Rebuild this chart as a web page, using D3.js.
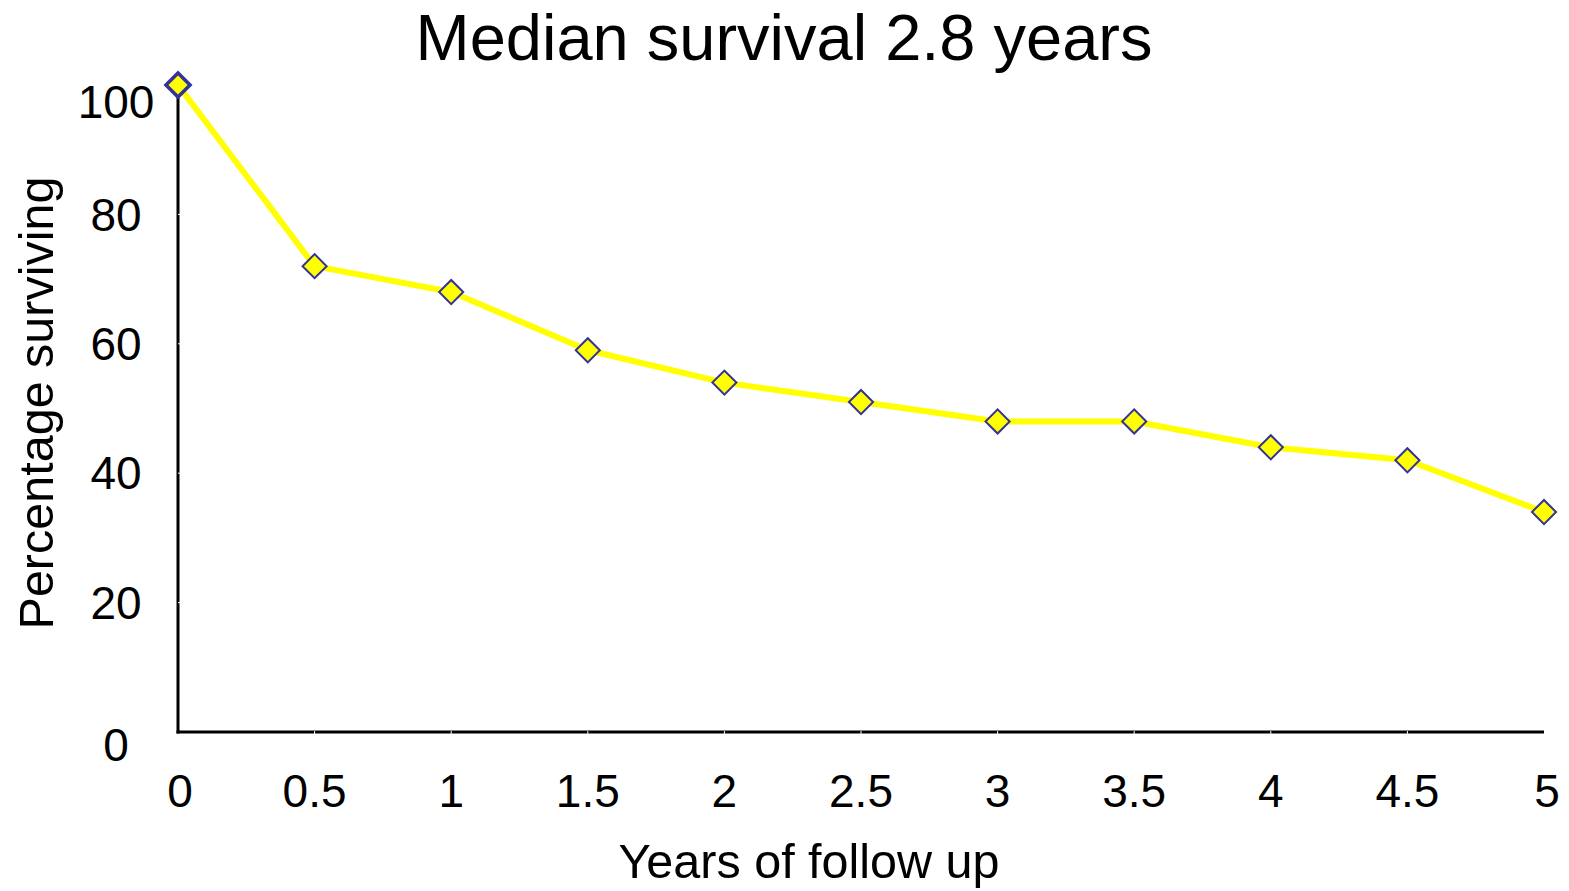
<!DOCTYPE html>
<html>
<head>
<meta charset="utf-8">
<script src="https://cdn.jsdelivr.net/npm/d3@7/dist/d3.min.js"></script>
<style>
  html, body { margin: 0; padding: 0; background: #fff; }
  svg { display: block; font-family: "Liberation Sans", Arial, sans-serif; }
</style>
</head>
<body>
<svg id="chart" width="1569" height="891"></svg>
<script>
// Survival data: years of follow up vs percentage of patients surviving
const years = [0, 0.5, 1, 1.5, 2, 2.5, 3, 3.5, 4, 4.5, 5];
const surviving = [100, 72, 68, 59, 54, 51, 48, 48, 44, 42, 34];
const xTickValues = [0, 0.5, 1, 1.5, 2, 2.5, 3, 3.5, 4, 4.5, 5];
const yTickValues = [0, 20, 40, 60, 80, 100];

const titleText = "Median survival 2.8 years";
const xTitle = "Years of follow up";
const yTitle = "Percentage surviving";

const svg = d3.select("#chart");
const plotLeft = 178, plotRight = 1544, plotTop = 85, plotBottom = 732;

const x = d3.scaleLinear().domain([0, 5]).range([plotLeft, plotRight]);
const y = d3.scaleLinear().domain([0, 100]).range([plotBottom, plotTop]);

// Title
svg.append("text")
  .attr("x", 784).attr("y", 60)
  .attr("text-anchor", "middle")
  .attr("font-size", 65)
  .attr("fill", "#000")
  .text(titleText);

// Axes lines
const axes = svg.append("g");
axes.append("line")
  .attr("x1", x(0)).attr("x2", x(0))
  .attr("y1", y(100)).attr("y2", y(0) + 1.5)
  .attr("stroke", "#000").attr("stroke-width", 3);
axes.append("line")
  .attr("x1", x(0) - 1.5).attr("x2", x(5))
  .attr("y1", y(0)).attr("y2", y(0))
  .attr("stroke", "#000").attr("stroke-width", 3);

// Small white notches marking tick positions on the axis lines
axes.selectAll(".ytick").data(yTickValues.filter(d => d > 0 && d < 100)).join("line")
  .attr("class", "ytick")
  .attr("x1", x(0)).attr("x2", x(0) + 2)
  .attr("y1", d => y(d)).attr("y2", d => y(d))
  .attr("stroke", "#fff").attr("stroke-width", 1);
axes.selectAll(".xtick").data(xTickValues.filter(d => d > 0 && d < 5)).join("line")
  .attr("class", "xtick")
  .attr("x1", d => x(d)).attr("x2", d => x(d))
  .attr("y1", y(0) - 1).attr("y2", y(0) + 2)
  .attr("stroke", "#fff").attr("stroke-width", 1);

// Y tick labels (end labels nudged inward)
svg.append("g").selectAll("text").data(yTickValues).join("text")
  .attr("x", 116)
  .attr("y", d => y(d) + (d === 100 ? 17 : d === 0 ? 13 : 0))
  .attr("dy", "0.35em")
  .attr("text-anchor", "middle")
  .attr("font-size", 46)
  .attr("fill", "#000")
  .text(d => d);

// X tick labels
const fmt = d3.format("~g");
svg.append("g").selectAll("text").data(xTickValues).join("text")
  .attr("x", d => x(d) + (d === 5 ? 3 : 0) + (d === 0 ? 2 : 0))
  .attr("y", 807)
  .attr("text-anchor", "middle")
  .attr("font-size", 46)
  .attr("fill", "#000")
  .text(d => fmt(d));

// Axis titles
svg.append("text")
  .attr("x", 809).attr("y", 878)
  .attr("text-anchor", "middle")
  .attr("font-size", 48.5)
  .attr("fill", "#000")
  .text(xTitle);

svg.append("text")
  .attr("transform", "translate(53,403) rotate(-90)")
  .attr("text-anchor", "middle")
  .attr("font-size", 48.5)
  .attr("fill", "#000")
  .text(yTitle);

// Survival line
const pts = years.map((yr, i) => [yr, surviving[i]]);
svg.append("path")
  .datum(pts)
  .attr("fill", "none")
  .attr("stroke", "#ffff00")
  .attr("stroke-width", 6)
  .attr("stroke-linejoin", "round")
  .attr("d", d3.line().x(d => x(d[0])).y(d => y(d[1])));

// Diamond markers
const diamond = d3.symbol().type(d3.symbolSquare).size(290);
svg.append("g").selectAll("path").data(pts).join("path")
  .attr("transform", d => `translate(${x(d[0])},${y(d[1])}) rotate(45)`)
  .attr("d", diamond)
  .attr("fill", "#ffff00")
  .attr("stroke", "#333399")
  .attr("stroke-width", (d, i) => i === 0 ? 3.5 : 2);
</script>
</body>
</html>
